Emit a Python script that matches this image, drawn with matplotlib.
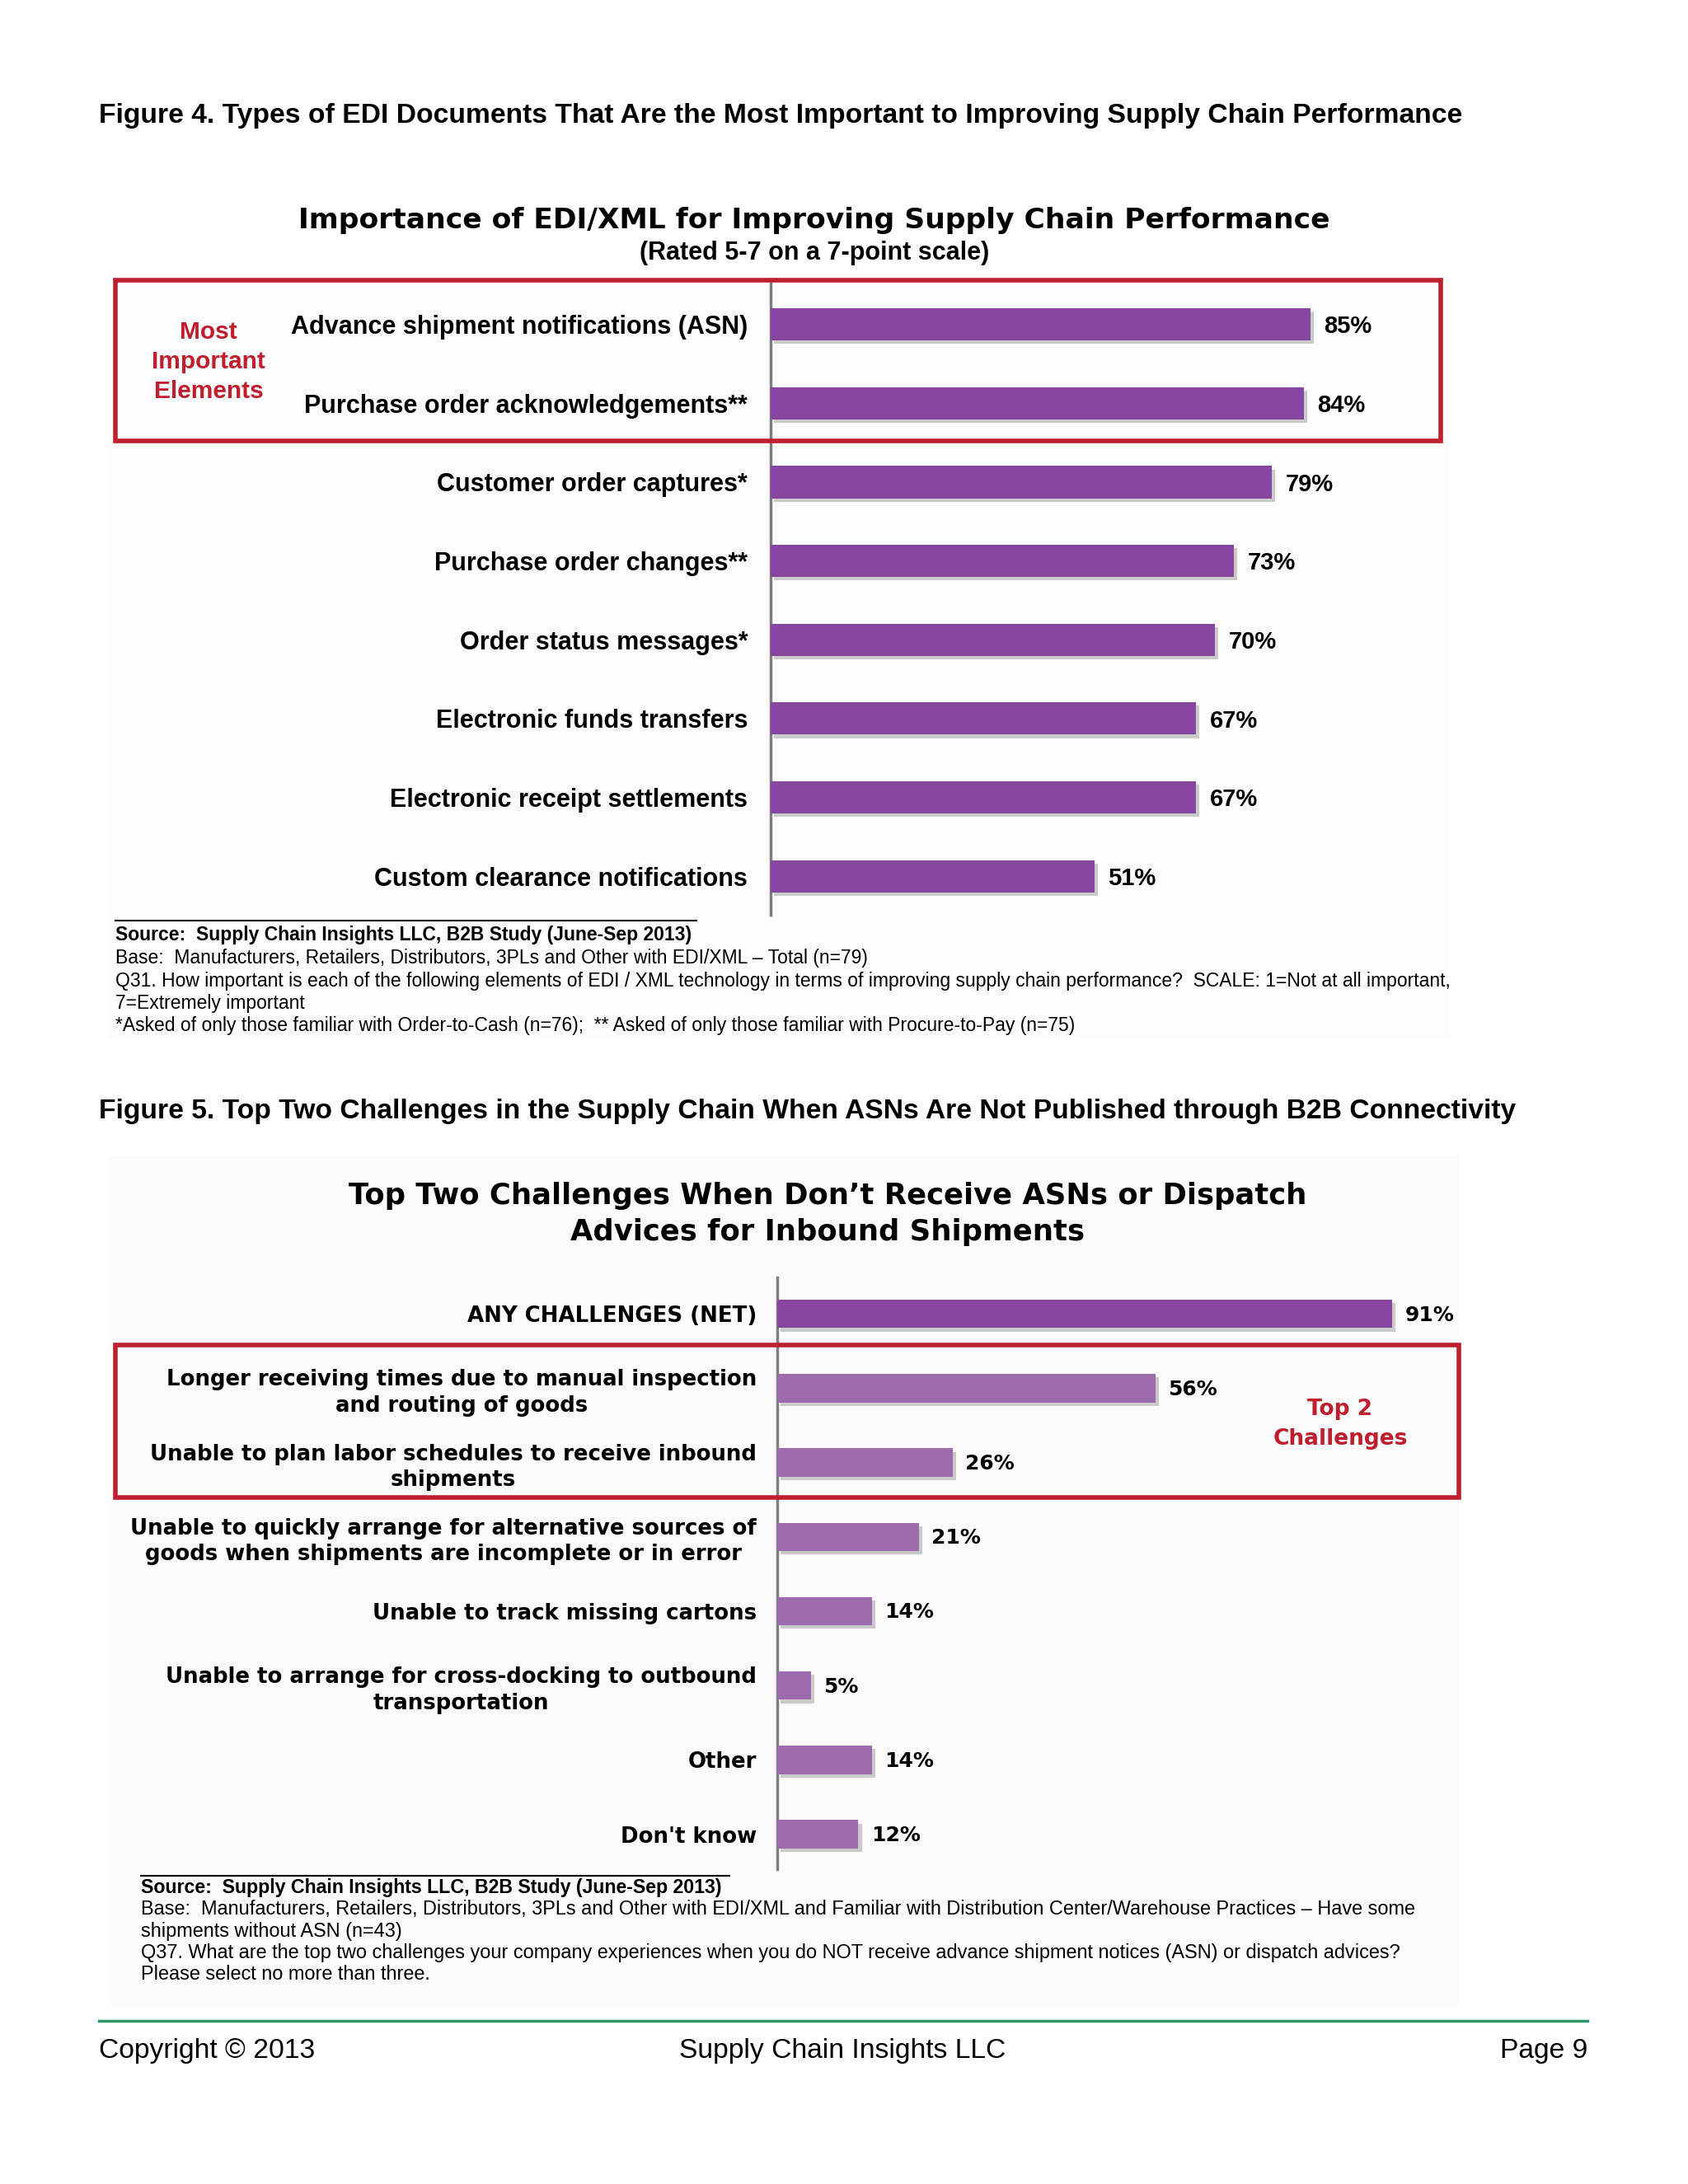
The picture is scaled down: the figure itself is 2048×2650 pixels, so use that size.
import matplotlib
matplotlib.use("Agg")
import matplotlib.pyplot as plt
from matplotlib.patches import Rectangle
from matplotlib.lines import Line2D
import matplotlib.patheffects as pe

# ── Data ────────────────────────────────────────────────────
cats1 = [
    "Advance shipment notifications (ASN)",
    "Purchase order acknowledgements**",
    "Customer order captures*",
    "Purchase order changes**",
    "Order status messages*",
    "Electronic funds transfers",
    "Electronic receipt settlements",
    "Custom clearance notifications",
]
vals1 = [85, 84, 79, 73, 70, 67, 67, 51]

cats2 = [
    "ANY CHALLENGES (NET)",
    "Longer receiving times due to manual inspection\nand routing of goods",
    "Unable to plan labor schedules to receive inbound\nshipments",
    "Unable to quickly arrange for alternative sources of\ngoods when shipments are incomplete or in error",
    "Unable to track missing cartons",
    "Unable to arrange for cross-docking to outbound\ntransportation",
    "Other",
    "Don't know",
]
vals2 = [91, 56, 26, 21, 14, 5, 14, 12]

# ── Style ───────────────────────────────────────────────────
PURPLE = "#8746A0"
LPURPLE = "#9C6CAC"
RED = "#BE1E2D"
GRAY = "#7F7F7F"
GREEN = "#2E9B67"
ARIAL = "Liberation Sans"
WIDE = "DejaVu Sans"

W, H = 2048, 2650
fig = plt.figure(figsize=(W / 100, H / 100), dpi=100)
fig.patch.set_facecolor("white")


def fx(x):
    return x / W


def fy(y):
    return 1 - y / H


def ftext(x, y, s, **kw):
    fig.text(fx(x), fy(y), s, **kw)


def fline(x0, x1, y, color="black", lw=1.5):
    fig.add_artist(Line2D([fx(x0), fx(x1)], [fy(y), fy(y)], color=color, lw=lw,
                          transform=fig.transFigure))


def fbox(x0, y0, x1, y1, **kw):
    fig.add_artist(Rectangle((fx(x0), fy(y1)), fx(x1) - fx(x0), fy(y0) - fy(y1),
                             transform=fig.transFigure, **kw))


shadow = [pe.SimplePatchShadow(offset=(3, -3), shadow_rgbFace="#9a9a9a", alpha=0.5),
          pe.Normal()]

# faint chart panels
fbox(132, 330, 1757, 1259, facecolor="#FCFCFC", edgecolor="none", zorder=0)
fbox(132, 1403, 1770, 2433, facecolor="#FBFBFC", edgecolor="none", zorder=0)

# ── Figure 4 ────────────────────────────────────────────────
ftext(120, 140, "Figure 4. Types of EDI Documents That Are the Most Important to Improving Supply Chain Performance",
      ha="left", va="center", fontsize=24.2, fontweight="bold", family=ARIAL)
ftext(988, 267, "Importance of EDI/XML for Improving Supply Chain Performance",
      ha="center", va="center", fontsize=24.8, fontweight="bold", family=WIDE)
ftext(988, 307, "(Rated 5-7 on a 7-point scale)",
      ha="center", va="center", fontsize=22, fontweight="bold", family=ARIAL)

ax1 = fig.add_axes([fx(935), fy(1110), 770 / W, (1110 - 343) / H])
ax1.set_facecolor("none")
y1 = list(range(len(cats1)))
bars = ax1.barh(y1, vals1, height=0.41, color=PURPLE, zorder=3)
for b in bars:
    b.set_path_effects(shadow)
ax1.set_xlim(0, 100)
ax1.set_ylim(7.49, -0.53)
ax1.set_yticks(y1)
ax1.set_yticklabels(cats1, fontsize=22, fontweight="bold", family=ARIAL)
ax1.tick_params(axis="y", length=0, pad=20)
ax1.set_xticks([])
for s in ["top", "right", "bottom"]:
    ax1.spines[s].set_visible(False)
ax1.spines["left"].set_color(GRAY)
ax1.spines["left"].set_linewidth(2.5)
for yi, v in zip(y1, vals1):
    ax1.annotate(f"{v}%", (v, yi), xytext=(12, -2), textcoords="offset points",
                 ha="left", va="center", fontsize=21, fontweight="bold", family=ARIAL)

fbox(140, 340, 1748, 535, facecolor="none", edgecolor=RED, lw=4, zorder=5)
ftext(253, 439, "Most\nImportant\nElements", ha="center", va="center", fontsize=21.5,
      fontweight="bold", color=RED, family=ARIAL, linespacing=1.38)

fline(140, 845, 1117)
ftext(140, 1134, "Source:  Supply Chain Insights LLC, B2B Study (June-Sep 2013)",
      ha="left", va="center", fontsize=16.5, fontweight="bold", family=ARIAL)
notes1 = [
    "Base:  Manufacturers, Retailers, Distributors, 3PLs and Other with EDI/XML \u2013 Total (n=79)",
    "Q31. How important is each of the following elements of EDI / XML technology in terms of improving supply chain performance?  SCALE: 1=Not at all important,",
    "7=Extremely important",
    "*Asked of only those familiar with Order-to-Cash (n=76);  ** Asked of only those familiar with Procure-to-Pay (n=75)",
]
for i, line in enumerate(notes1):
    ftext(140, 1163 + i * 27.3, line, ha="left", va="center", fontsize=16.5, family=ARIAL)

# ── Figure 5 ────────────────────────────────────────────────
ftext(120, 1349, "Figure 5. Top Two Challenges in the Supply Chain When ASNs Are Not Published through B2B Connectivity",
      ha="left", va="center", fontsize=24.2, fontweight="bold", family=ARIAL)
ftext(1004, 1473, "Top Two Challenges When Don\u2019t Receive ASNs or Dispatch\nAdvices for Inbound Shipments",
      ha="center", va="center", fontsize=25.5, fontweight="bold", family=WIDE, linespacing=1.38)

ax2 = fig.add_axes([fx(943), fy(2268), 820 / W, (2268 - 1550) / H])
ax2.set_facecolor("none")
y2 = list(range(len(cats2)))
cols2 = [PURPLE] + [LPURPLE] * (len(cats2) - 1)
bars = ax2.barh(y2, vals2, height=0.38, color=cols2, zorder=3)
for b in bars:
    b.set_path_effects(shadow)
ax2.set_xlim(0, 100)
ax2.set_ylim(7.47, -0.49)
ax2.set_yticks(y2)
ax2.set_yticklabels(cats2, fontsize=18.7, fontweight="bold", family=WIDE)
for t in ax2.get_yticklabels():
    t.set_multialignment("center")
    t.set_linespacing(1.28)
ax2.tick_params(axis="y", length=0, pad=18)
ax2.set_xticks([])
for s in ["top", "right", "bottom"]:
    ax2.spines[s].set_visible(False)
ax2.spines["left"].set_color(GRAY)
ax2.spines["left"].set_linewidth(2.5)
for yi, v in zip(y2, vals2):
    ax2.annotate(f"{v}%", (v, yi), xytext=(11, -1), textcoords="offset points",
                 ha="left", va="center", fontsize=18, fontweight="bold", family=WIDE)

fbox(140, 1632, 1770, 1817, facecolor="none", edgecolor=RED, lw=4, zorder=5)
ftext(1626, 1728, "Top 2\nChallenges", ha="center", va="center", fontsize=19,
      fontweight="bold", color=RED, family=WIDE, linespacing=1.5)

fline(171, 885, 2276)
ftext(171, 2291, "Source:  Supply Chain Insights LLC, B2B Study (June-Sep 2013)",
      ha="left", va="center", fontsize=16.7, fontweight="bold", family=ARIAL)
notes2 = [
    "Base:  Manufacturers, Retailers, Distributors, 3PLs and Other with EDI/XML and Familiar with Distribution Center/Warehouse Practices \u2013 Have some",
    "shipments without ASN (n=43)",
    "Q37. What are the top two challenges your company experiences when you do NOT receive advance shipment notices (ASN) or dispatch advices?",
    "Please select no more than three.",
]
for i, line in enumerate(notes2):
    ftext(171, 2317 + i * 26.3, line, ha="left", va="center", fontsize=16.9, family=ARIAL)

# ── Footer ──────────────────────────────────────────────────
fline(120, 1926, 2452, color=GREEN, lw=2.5)
ftext(120, 2489, "Copyright \u00a9 2013", ha="left", va="center", fontsize=24.2, family=ARIAL)
ftext(1022, 2489, "Supply Chain Insights LLC", ha="center", va="center", fontsize=24.2, family=ARIAL)
ftext(1926, 2489, "Page 9", ha="right", va="center", fontsize=24.2, family=ARIAL)

fig.savefig("out.png", dpi=100, facecolor="white")
plt.close(fig)
